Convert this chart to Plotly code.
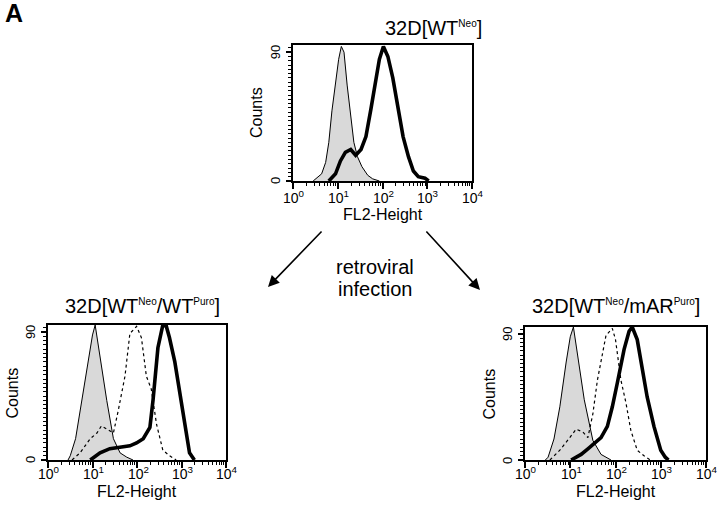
import plotly.graph_objects as go

# ---------------- data (log10 FL2 channel, counts) ----------------
top_gray_log = [0.45, 0.53, 0.64, 0.73, 0.80, 0.87, 0.95, 1.02, 1.08, 1.14, 1.21, 1.29, 1.36, 1.44, 1.54, 1.67, 1.78, 1.93]
top_gray_cnt = [0, 2, 5, 13, 27, 49, 69, 85, 94, 90, 67, 43, 27, 17, 10, 4, 1.5, 0]
top_bold_log = [0.80, 0.95, 1.06, 1.17, 1.29, 1.40, 1.52, 1.63, 1.74, 1.86, 1.93, 2.02, 2.12, 2.23, 2.35, 2.46, 2.58, 2.69, 2.80, 2.95, 3.03]
top_bold_cnt = [0, 5, 14, 20, 22, 18, 22, 31, 50, 72, 85, 94, 87, 72, 50, 31, 17, 7, 3, 2, 0]

bl_gray_log = [0.45, 0.50, 0.62, 0.76, 0.91, 1.00, 1.06, 1.17, 1.32, 1.47, 1.62, 1.77, 1.91]
bl_gray_cnt = [0, 3, 15, 42, 72, 88, 95, 72, 42, 15, 5, 2, 0]
bl_dot_log = [0.54, 0.72, 0.95, 1.10, 1.20, 1.32, 1.47, 1.58, 1.73, 1.84, 1.99, 2.10, 2.21, 2.32, 2.44, 2.58, 2.73, 2.88]
bl_dot_cnt = [0, 5, 15, 19, 24, 22, 19, 35, 59, 89, 94, 86, 59, 50, 25, 7, 3, 0]
bl_bold_log = [0.95, 1.17, 1.39, 1.62, 1.73, 1.84, 1.99, 2.14, 2.29, 2.36, 2.47, 2.58, 2.66, 2.73, 2.85, 2.96, 3.07, 3.18, 3.29]
bl_bold_cnt = [0, 5, 8, 9, 10, 10, 12, 15, 23, 42, 79, 95, 94, 86, 69, 47, 25, 5, 0]

br_gray_log = [0.45, 0.51, 0.64, 0.77, 0.91, 1.00, 1.07, 1.17, 1.31, 1.50, 1.68, 1.90]
br_gray_cnt = [0, 2, 15, 38, 70, 88, 95, 72, 43, 14, 4, 0]
br_dot_log = [0.55, 0.77, 0.99, 1.13, 1.28, 1.39, 1.50, 1.60, 1.79, 1.93, 2.00, 2.12, 2.23, 2.34, 2.48, 2.63, 2.77]
br_dot_cnt = [0, 7, 16, 22, 20, 16, 33, 57, 89, 94, 86, 57, 41, 21, 7, 3, 0]
br_bold_log = [1.02, 1.24, 1.39, 1.53, 1.68, 1.82, 1.93, 2.04, 2.19, 2.30, 2.37, 2.48, 2.59, 2.70, 2.85, 3.00, 3.10, 3.17]
br_bold_cnt = [0, 4, 8, 12, 16, 24, 38, 55, 79, 92, 95, 86, 67, 45, 24, 7, 2, 0]

titles = ["32D[WT<sup><span style='font-size:10px'>Neo</span></sup>]",
          "32D[WT<sup><span style='font-size:10px'>Neo</span></sup>/WT<sup><span style='font-size:10px'>Puro</span></sup>]",
          "32D[WT<sup><span style='font-size:10px'>Neo</span></sup>/mAR<sup><span style='font-size:10px'>Puro</span></sup>]"]
x_tick_exp = [0, 1, 2, 3, 4]
x_ticktext = ["10<sup>0</sup>", "10<sup>1</sup>", "10<sup>2</sup>", "10<sup>3</sup>", "10<sup>4</sup>"]
y_tickvals = [0, 90]
y_ticktext = ["0", "90"]

FONT = "Liberation Sans, Arial, Helvetica, sans-serif"

def lin(v):
    return [10 ** a for a in v]

fig = go.Figure()

panels = [
    ("x", "y", top_gray_log, top_gray_cnt, None, None, top_bold_log, top_bold_cnt),
    ("x2", "y2", bl_gray_log, bl_gray_cnt, bl_dot_log, bl_dot_cnt, bl_bold_log, bl_bold_cnt),
    ("x3", "y3", br_gray_log, br_gray_cnt, br_dot_log, br_dot_cnt, br_bold_log, br_bold_cnt),
]

for xa, ya, gl, gc, dl, dc, bl, bc in panels:
    fig.add_trace(go.Scatter(x=lin(gl), y=gc, xaxis=xa, yaxis=ya, mode="lines",
                             fill="tozeroy", fillcolor="#d9d9d9",
                             line=dict(color="black", width=1), showlegend=False))
    if dl is not None:
        fig.add_trace(go.Scatter(x=lin(dl), y=dc, xaxis=xa, yaxis=ya, mode="lines",
                                 line=dict(color="black", width=1.2, dash="dot"), showlegend=False))
    fig.add_trace(go.Scatter(x=lin(bl), y=bc, xaxis=xa, yaxis=ya, mode="lines",
                             line=dict(color="black", width=3.6), showlegend=False))

# panel boxes (pixels: left, right, top, bottom)
boxes = [(293, 472, 45, 181), (48, 226, 325, 460), (525, 706, 327, 460)]
label_gap = [(16, 34), (13, 31), (13, 31)]   # tick-label centre / axis-title centre below box
domains = [([l / 720, r / 720], [1 - b / 509, 1 - t / 509]) for l, r, t, b in boxes]

minor_vals = [m * 10 ** k for k in range(4) for m in range(2, 10)]

for i, (dx, dy) in enumerate(domains):
    sfx = "" if i == 0 else str(i + 1)
    yname = "y" + sfx
    xname = "x" + sfx
    fig.layout["xaxis" + sfx] = dict(
        domain=dx, type="log", range=[0, 4], anchor=yname,
        tickmode="array", tickvals=[10 ** e for e in x_tick_exp], showticklabels=False,
        ticks="outside", ticklen=6, tickwidth=1.5, tickcolor="black",
        minor=dict(tickmode="array", tickvals=minor_vals, ticks="outside", ticklen=3,
                   tickwidth=1, tickcolor="black"),
        showline=True, linecolor="black", linewidth=1.5, mirror=True,
        showgrid=False, zeroline=False,
    )
    fig.layout["yaxis" + sfx] = dict(
        domain=dy, range=[0, 95], anchor=xname,
        tickmode="array", tickvals=y_tickvals, showticklabels=False,
        ticks="outside", ticklen=5, tickwidth=1.5, tickcolor="black",
        minor=dict(dtick=3, ticks="outside", ticklen=3, tickwidth=1, tickcolor="black"),
        showline=True, linecolor="black", linewidth=1.5, mirror=True,
        showgrid=False, zeroline=False,
    )

ann = []
for i, ((dx, dy), (tg, ag)) in enumerate(zip(domains, label_gap)):
    sfx = "" if i == 0 else str(i + 1)
    xc = (dx[0] + dx[1]) / 2
    # x tick labels
    for e, txt in zip(x_tick_exp, x_ticktext):
        ann.append(dict(text=txt, x=e, xref="x" + sfx, y=dy[0] - tg / 509, yref="paper",
                        showarrow=False, font=dict(family=FONT, size=14, color="black"),
                        xanchor="center", yanchor="middle", xshift=1))
    # y tick labels
    for v, txt in zip(y_tickvals, y_ticktext):
        ann.append(dict(text=txt, x=dx[0] - 18 / 720, xref="paper", y=v, yref="y" + sfx,
                        showarrow=False, textangle=-90, font=dict(family=FONT, size=13, color="black"),
                        xanchor="center", yanchor="middle"))
    ann.append(dict(text="FL2-Height", x=xc, y=dy[0] - ag / 509, xref="paper", yref="paper",
                    showarrow=False, font=dict(family=FONT, size=16, color="black"),
                    xanchor="center", yanchor="middle"))
    ann.append(dict(text="Counts", x=dx[0] - 36 / 720, y=(dy[0] + dy[1]) / 2, xref="paper", yref="paper",
                    showarrow=False, textangle=-90, font=dict(family=FONT, size=16, color="black"),
                    xanchor="center", yanchor="middle"))
# panel titles
title_pos = [(433, 28), (142, 306), (616, 306)]
for t, (px, py) in zip(titles, title_pos):
    ann.append(dict(text=t, x=px / 720, y=1 - py / 509, xref="paper", yref="paper",
                    showarrow=False, font=dict(family=FONT, size=20, color="black"),
                    xanchor="center", yanchor="middle"))
ann.append(dict(text="<b>A</b>", x=14 / 720, y=1 - 13 / 509, xref="paper", yref="paper",
                showarrow=False, font=dict(family=FONT, size=25, color="black"),
                xanchor="center", yanchor="middle"))
ann.append(dict(text="retroviral", x=375 / 720, y=1 - 267 / 509, xref="paper", yref="paper",
                showarrow=False, font=dict(family=FONT, size=20, color="black"),
                xanchor="center", yanchor="middle"))
ann.append(dict(text="infection", x=375 / 720, y=1 - 289 / 509, xref="paper", yref="paper",
                showarrow=False, font=dict(family=FONT, size=20, color="black"),
                xanchor="center", yanchor="middle"))
# arrows
ann.append(dict(x=268 / 720, y=1 - 287 / 509, xref="paper", yref="paper", ax=55, ay=-57,
                showarrow=True, arrowhead=2, arrowsize=1.4, arrowwidth=1.6, arrowcolor="black", text=""))
ann.append(dict(x=480 / 720, y=1 - 290 / 509, xref="paper", yref="paper", ax=-55, ay=-60,
                showarrow=True, arrowhead=2, arrowsize=1.4, arrowwidth=1.6, arrowcolor="black", text=""))

fig.update_layout(
    width=720, height=509, margin=dict(l=0, r=0, t=0, b=0),
    paper_bgcolor="white", plot_bgcolor="white",
    annotations=ann, showlegend=False,
    font=dict(family=FONT, color="black"),
)

fig.write_html("out.html", config={"displayModeBar": False},
               post_script="document.body.style.margin='0';")
